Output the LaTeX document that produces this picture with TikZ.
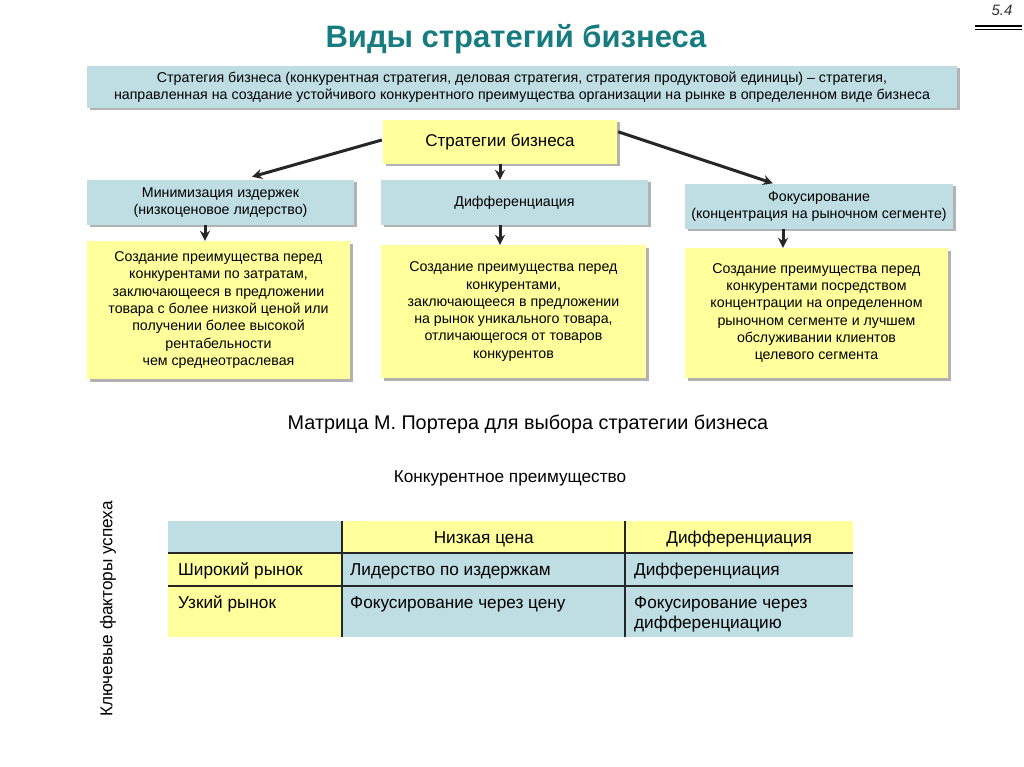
\documentclass[tikz,border=0pt]{standalone}
\usepackage{fontspec}
\setmainfont{Liberation Sans}
\usetikzlibrary{arrows.meta,shadows,calc}
\definecolor{bl}{RGB}{190,222,228}
\definecolor{yl}{RGB}{255,255,155}
\definecolor{tl}{RGB}{22,124,128}
\definecolor{sh}{RGB}{178,178,178}
\begin{document}
\begin{tikzpicture}[x=1pt,y=-1pt,
  box/.style={draw=none, inner sep=0pt, align=center, text=black,
    drop shadow={shadow xshift=2.5pt, shadow yshift=-2.5pt, fill=sh, opacity=1}},
  bbox/.style={box, fill=bl},
  ybox/.style={box, fill=yl},
  txt/.style={font=\fontsize{14.2}{17.3}\selectfont},
  arr/.style={line width=3pt, draw=black!85, -{Stealth[length=10pt,width=10pt]}},
  cell/.style={draw=none, inner sep=0pt, anchor=north west},
  ctext/.style={font=\fontsize{17.2}{20}\selectfont, inner sep=0pt, align=left},
  grid/.style={line width=2pt, draw=black!85}
]
\useasboundingbox (0,0) rectangle (1024,767);
\fill[white] (0,0) rectangle (1024,767);

% title
\node[font=\fontsize{31}{34}\selectfont\bfseries, text=tl] (title) at (516,39) {Виды стратегий бизнеса};
\node[font=\fontsize{15}{17}\selectfont\itshape, text=black!80] (num) at (1002,10) {5.4};
\coordinate (dl1) at (975,26); \coordinate (dl2) at (1022,26);
\coordinate (dl3) at (975,29.5); \coordinate (dl4) at (1022,29.5);
\draw[line width=1.2pt] (dl1) -- (dl2);
\draw[line width=1.2pt] (dl3) -- (dl4);

% definition
\node[bbox, txt, minimum width=870pt, minimum height=42pt] (def) at (522,87)
 {Стратегия бизнеса (конкурентная стратегия, деловая стратегия, стратегия продуктовой единицы) – стратегия,\\
  направленная на создание устойчивого конкурентного преимущества организации на рынке в определенном виде бизнеса};

% main node
\node[ybox, font=\fontsize{17}{20}\selectfont, minimum width=234pt, minimum height=44pt] (strat) at (500,142) {Стратегии бизнеса};

% blue boxes
\node[bbox, txt, minimum width=267pt, minimum height=45pt] (b1) at (220.5,202.5) {Минимизация издержек\\(низкоценовое лидерство)};
\node[bbox, txt, minimum width=267pt, minimum height=45pt] (b2) at (514.5,202.5) {Дифференциация};
\node[bbox, txt, minimum width=268pt, minimum height=45pt] (b3) at (819,206.5) {Фокусирование\\(концентрация на рыночном сегменте)};

% yellow boxes
\node[ybox, txt, minimum width=263pt, minimum height=138pt] (y1) at (218.5,310)
 {Создание преимущества перед\\конкурентами по затратам,\\заключающееся в предложении\\товара с более низкой ценой или\\получении более высокой\\рентабельности\\чем среднеотраслевая};
\node[ybox, txt, minimum width=265pt, minimum height=133pt] (y2) at (513.5,311.5)
 {Создание преимущества перед\\конкурентами,\\заключающееся в предложении\\на рынок уникального товара,\\отличающегося от товаров\\конкурентов};
\node[ybox, txt, minimum width=263pt, minimum height=130pt] (y3) at (816.5,313)
 {Создание преимущества перед\\конкурентами посредством\\концентрации на определенном\\рыночном сегменте и лучшем\\обслуживании клиентов\\целевого сегмента};

% arrows
\coordinate (a1) at ($(b1.north)+(31.5,-3)$);
\coordinate (a3) at ($(b3.north)+(-46,-0.5)$);
\draw[arr] ($(strat.west)+(-1,-2)$) -- (a1);
\draw[arr] ($(strat.north east)+(1,12)$) -- (a3);
\draw[arr] ($(strat.south)+(0,0)$) -- ($(b2.north)+(-14.5,0)$);
\draw[arr] ($(b1.south)+(-15.5,0)$) -- ($(y1.north)+(-13.5,0)$);
\draw[arr] ($(b2.south)+(-14.5,0)$) -- ($(y2.north)+(-13.5,0)$);
\draw[arr] ($(b3.south)+(-36,0)$) -- ($(y3.north)+(-33.5,0)$);

% matrix captions
\node[font=\fontsize{19.8}{23}\selectfont] (mt) at (528,424) {Матрица М. Портера для выбора стратегии бизнеса};
\node[font=\fontsize{17.2}{20}\selectfont] (ka) at (510,478) {Конкурентное преимущество};
\node[font=\fontsize{17.2}{20}\selectfont, rotate=90] (kf) at (108,609) {Ключевые факторы успеха};

% table cells
\node[cell, fill=bl, minimum width=174pt, minimum height=32pt] (c11) at (168,521) {};
\node[cell, fill=yl, minimum width=283pt, minimum height=32pt] (c12) at (342,521) {};
\node[cell, fill=yl, minimum width=228pt, minimum height=32pt] (c13) at (625,521) {};
\node[cell, fill=yl, minimum width=174pt, minimum height=33pt] (c21) at (168,553) {};
\node[cell, fill=bl, minimum width=283pt, minimum height=33pt] (c22) at (342,553) {};
\node[cell, fill=bl, minimum width=228pt, minimum height=33pt] (c23) at (625,553) {};
\node[cell, fill=yl, minimum width=174pt, minimum height=51pt] (c31) at (168,586) {};
\node[cell, fill=bl, minimum width=283pt, minimum height=51pt] (c32) at (342,586) {};
\node[cell, fill=bl, minimum width=228pt, minimum height=51pt] (c33) at (625,586) {};

\draw[grid] (c12.north west) -- (c32.south west);
\draw[grid] (c13.north west) -- (c33.south west);
\draw[grid] (c21.north west) -- (c23.north east);
\draw[grid] (c31.north west) -- (c33.north east);

% table texts
\node[ctext, anchor=base] (t12) at ($(c12.center)+(0,6)$) {Низкая цена};
\node[ctext, anchor=base] (t13) at ($(c13.center)+(0,6)$) {Дифференциация};
\node[ctext, anchor=base west] (t21) at ($(c21.west)+(10,6)$) {Широкий рынок};
\node[ctext, anchor=base west] (t22) at ($(c22.west)+(8,6)$) {Лидерство по издержкам};
\node[ctext, anchor=base west] (t23) at ($(c23.west)+(9,6)$) {Дифференциация};
\node[ctext, anchor=base west] (t31) at ($(c31.north west)+(10,22)$) {Узкий рынок};
\node[ctext, anchor=base west] (t32) at ($(c32.north west)+(8,22)$) {Фокусирование через цену};
\node[ctext, anchor=north west] (t33) at ($(c33.north west)+(9,10.5)$) {Фокусирование через\\дифференциацию};
\end{tikzpicture}
\end{document}
